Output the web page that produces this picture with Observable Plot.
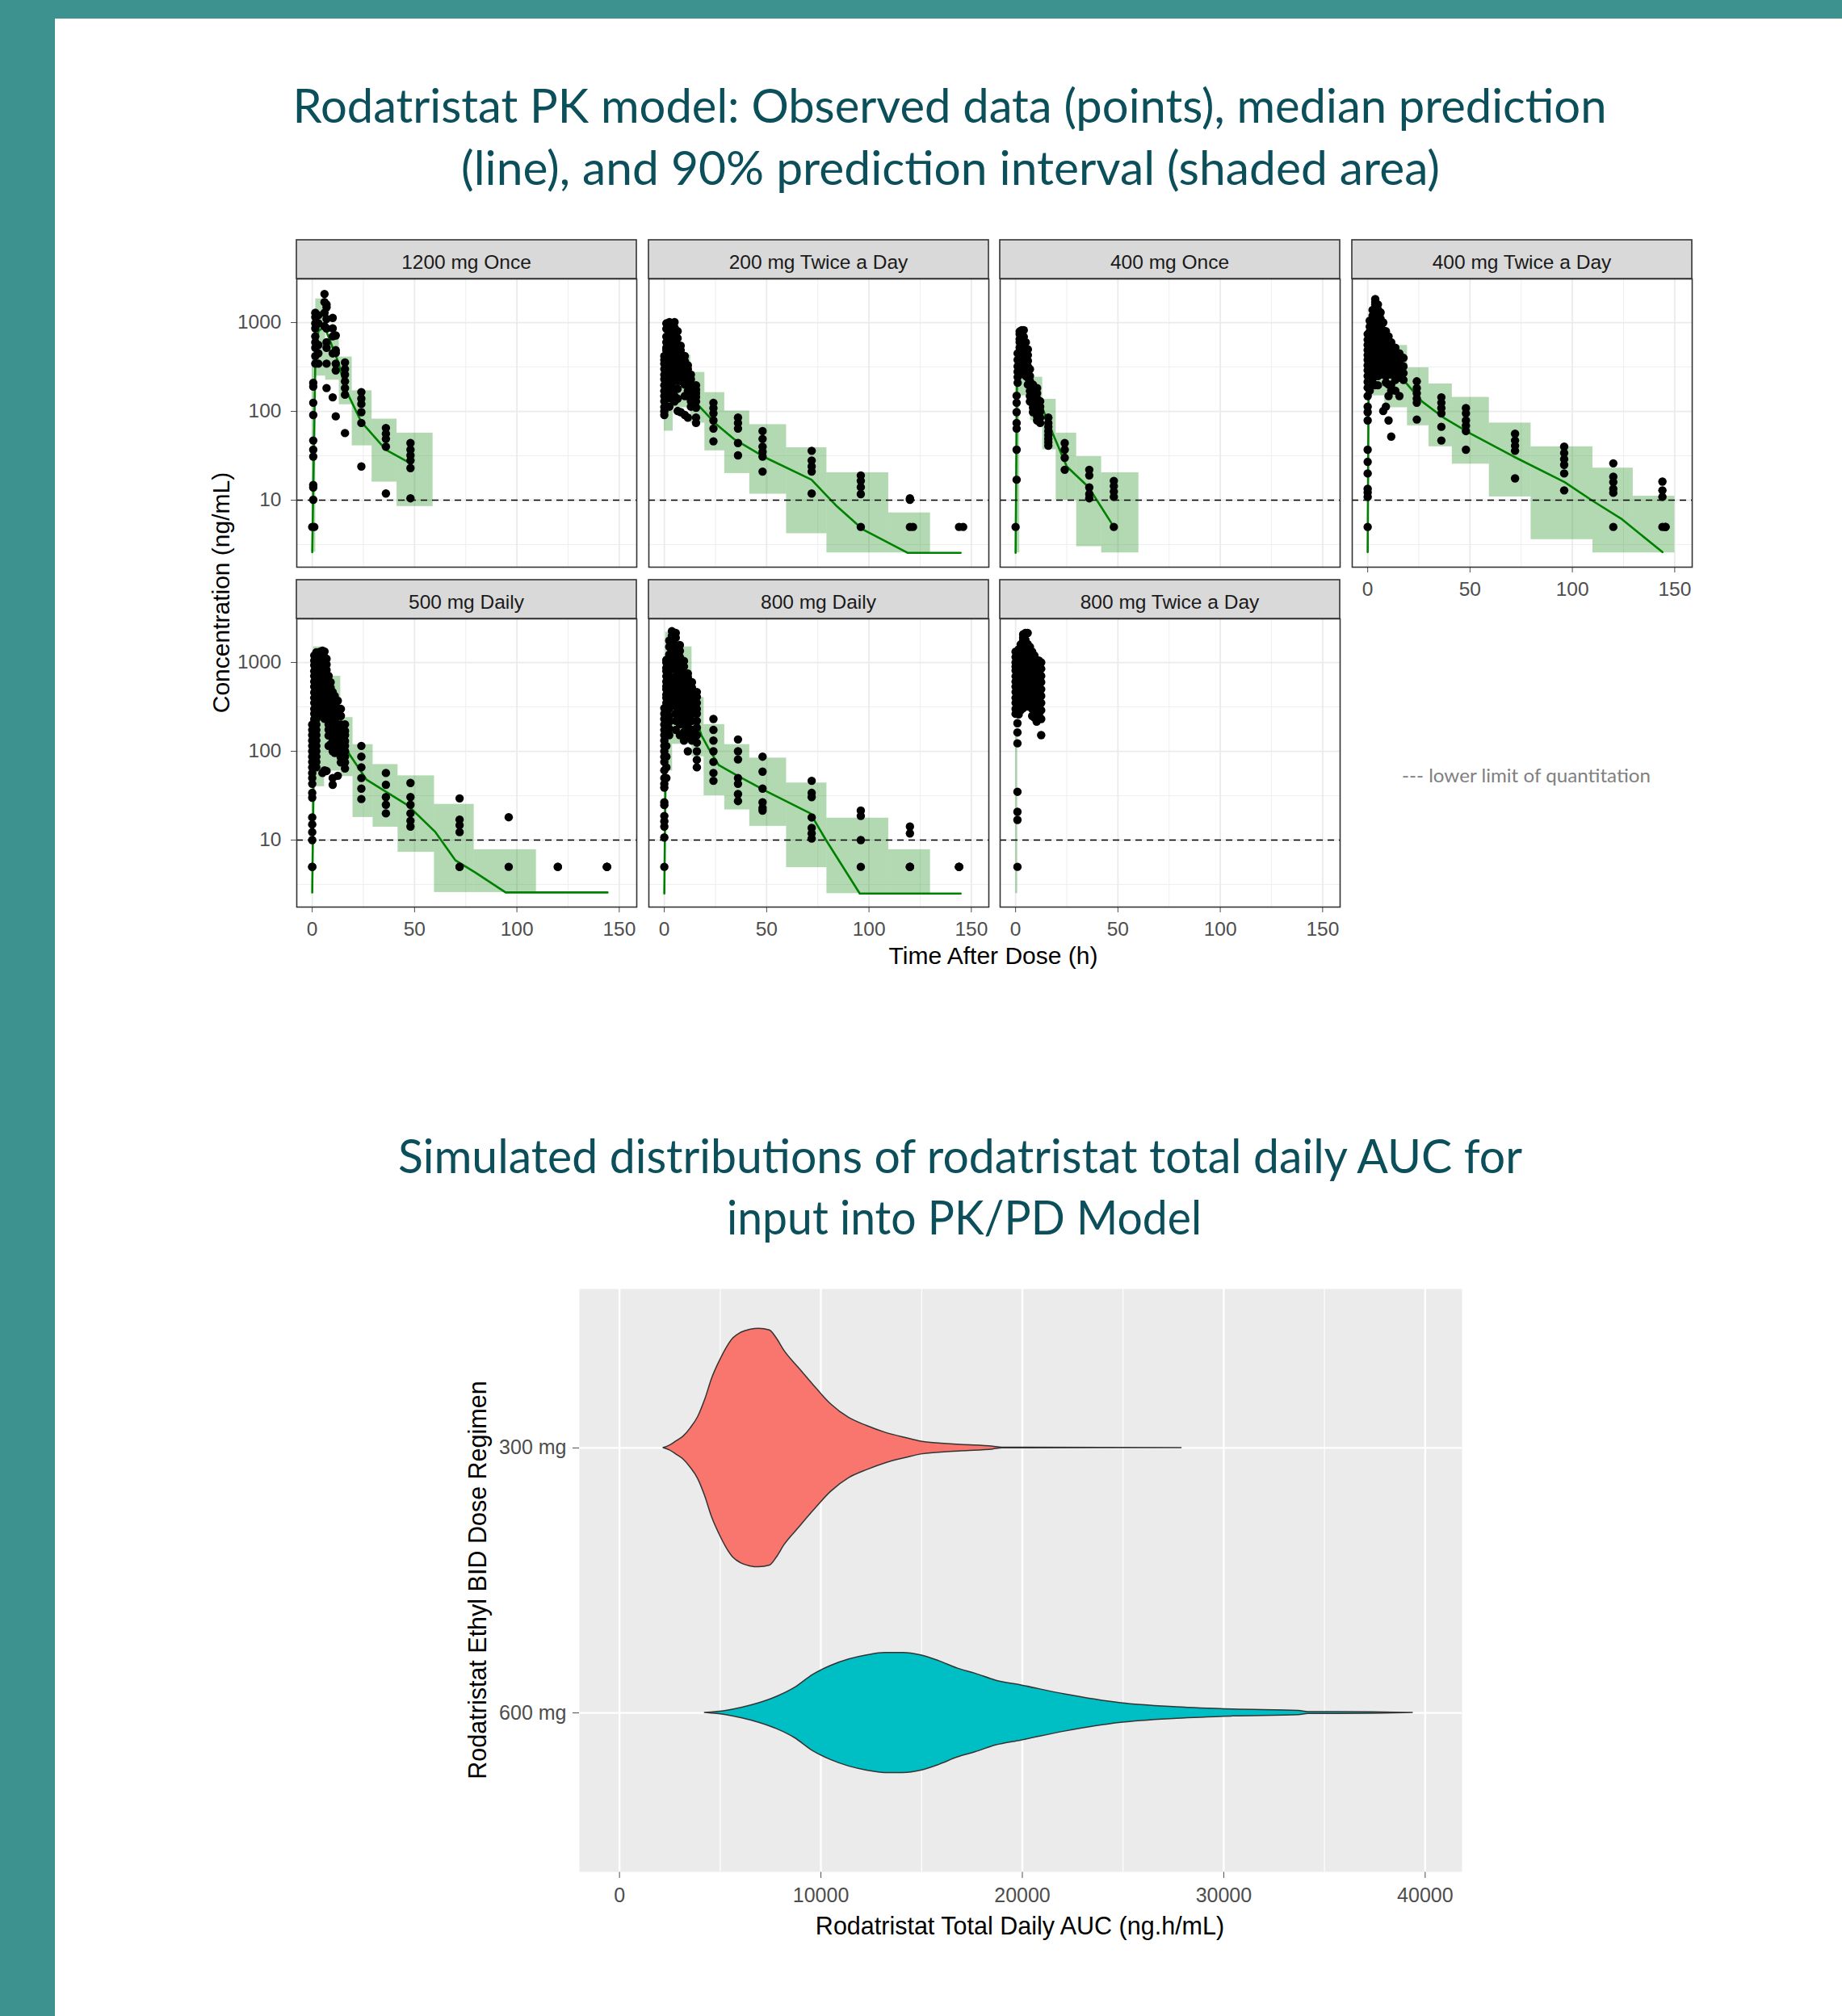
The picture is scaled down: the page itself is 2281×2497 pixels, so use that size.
<!DOCTYPE html>
<html><head><meta charset="utf-8">
<script src="https://cdn.jsdelivr.net/npm/d3@7"></script>
<script src="https://cdn.jsdelivr.net/npm/@observablehq/plot@0.6"></script>
<style>
html,body{margin:0;padding:0;background:#fff;}
#page{position:relative;width:2281px;height:2497px;overflow:hidden;background:#fff;}
#page > svg{position:absolute;max-width:none;}
</style></head><body><div id="page"></div>
<script>
// ---------------- DATA ----------------
const panelNames = ["1200 mg Once","200 mg Twice a Day","400 mg Once","400 mg Twice a Day","500 mg Daily","800 mg Daily","800 mg Twice a Day"];
const xTicks = [0,50,100,150];
const xMinor = [25,75,125];
const yTicks = [10,100,1000];
const yMinor = [3.162,31.62,316.2];
const lloq = 10;

// observed: [time, [concentrations...]]
const obs1200Once = [
 [0,[5.0]],
 [0.5,[10.1,13.9,14.8,31,37,47,91,125,190,210]],
 [1,[5.0]],
 [1.5,[345,420,520,600,700,860,980,1150,1290]],
 [3,[980,1210,345,450,560]],
 [6,[2100,1700,1290,910]],
 [7,[1600,1490,1100,860,600,520,345,183]],
 [10,[1130,860,700,450,144]],
 [11.5,[716,488,344,289,88,455]],
 [16,[356,300,260,218,183,154,57]],
 [24,[165,139,121,98,74,24]],
 [36,[65,56,49,40,11.9]],
 [48,[44,37,32,28,23,10.5]]
];
const obs200BID = [
 [0,[420,380,344,300,259,230,197,170,149,130,112,100,91]],
 [1,[979,850,695,600,520,487,420,360,300,250,197,160,139]],
 [2.5,[1014,882,780,700,601,520,450,369,300,260,226,190,149,113]],
 [3.5,[979,850,741,640,560,480,420,360,299,250,204,170,139]],
 [5,[1014,880,760,691,600,520,455,390,330,280,226,180,149,129]],
 [6.5,[800,667,560,480,400,350,300,260,220,180,139,101]],
 [8,[550,488,420,369,330,299,260,220,98]],
 [10,[420,369,330,299,270,243,200,149,91]],
 [11.5,[330,299,250,220,197,170,149,85]],
 [13,[260,230,204,171,149,130,113]],
 [15.5,[197,175,160,145,129,110,85,74]],
 [24,[125,109,95,79,64,46]],
 [36,[85,74,64,44,32]],
 [48,[60,49,40,35,31,21]],
 [72,[36,28,24,21,11.9]],
 [96,[19,16.5,14,11.7,5.0]],
 [120,[10.1,10.5,5.0]],
 [121.5,[5.0]],
 [144,[5.0]],
 [146,[5.0]]
];
const obs400Once = [
 [0,[5.0]],
 [0.5,[17,37,64,74,98,125,150]],
 [1,[210,243,279,321,380,450]],
 [2,[794,741,650,601,523,455,400,344,279,260]],
 [3,[820,740,650,560,480,420,370,320]],
 [4,[822,691,600,520,450,390,340]],
 [5,[600,488,420,369,320,299,250]],
 [6,[500,430,370,320,280,240,200]],
 [7,[299,251,220,197,170,149,129]],
 [8.5,[200,170,149,135,121,110,98]],
 [10.5,[183,160,139,120,98,88,79]],
 [12,[130,113,100,85,74]],
 [16,[85,74,67,60,54,49,45,41]],
 [24,[44,37,30,22]],
 [36,[22,19,13.9,11.7,10.5]],
 [48,[16.5,14.4,12.5,10.9,5.0]]
];
const obs400BID = [
 [0,[741,640,560,490,430,380,330,290,250,215,185,149,113,98,79,37,27,20,13.4,12.2,10.9,5.0]],
 [1,[1050,900,794,700,601,520,460,400,350,300,260,226,190,171]],
 [2.4,[1388,1200,1050,900,790,690,600,520,450,390,340,290,250,211]],
 [3.7,[1835,1700,1595,1400,1207,1050,900,800,700,601,520,450,390,340,299,250,197]],
 [5,[1600,1400,1207,1050,900,800,700,600,520,455,400,344,300,250,197]],
 [6.3,[1300,1100,979,850,750,650,560,480,420,369,320,260]],
 [7.6,[1000,822,700,601,520,460,400,350,300,260,101]],
 [8.9,[800,700,644,560,488,420,344,290,250,211,113]],
 [10.2,[700,601,520,450,396,330,260,200,149,79]],
 [11.5,[600,520,450,380,320,260,200,171,52]],
 [13.5,[520,460,400,340,299,260,226,171]],
 [15.5,[450,400,369,320,279,240,149]],
 [17.5,[400,321,270,226]],
 [24,[218,183,160,139,125,81]],
 [36,[144,125,109,95,67,47]],
 [48,[109,95,79,69,60,37]],
 [72,[56,47,41,36,17.6]],
 [96,[40,34,29,25,20,12.9]],
 [120,[26,18.4,16,13.4,12.1,5.0]],
 [144,[16.2,12.9,10.9,5.0]],
 [145.5,[5.0,5.0]]
];
const obs500Daily = [
 [0,[5.0,5.0,10,12.3,15,18,30,34,43,50,57,66,76,87,100,115,132,152,174,200]],
 [1,[230,265,300,351,400,460,535,610,705,800,930,1050,1200]],
 [2,[1300,1100,930,790,705,600,535,460,400,351,300,265,230,200,174,152,132,115,100,87,76,66]],
 [4,[1330,1150,1000,930,800,700,610,535,460,390,330,265]],
 [5,[1360,1200,1050,900,780,660,560,470,400,340,290,250,57]],
 [6,[1330,1150,1000,810,700,600,535,440,351,300,260,232,61]],
 [7,[1100,950,820,705,600,510,440,380,320,280,240,60]],
 [8,[705,620,550,465,420,370,320,265,230,200,175,150,115]],
 [9,[600,520,465,410,351,300,260,220,180,150,120]],
 [10,[465,410,351,300,250,210,180,152,130,100,50,42]],
 [11,[420,370,320,270,230,190,160,130,110,96]],
 [12.5,[370,300,250,201,170,150,130,110,96,53]],
 [14,[300,250,201,170,150,130,110,96,85,75]],
 [16,[201,170,152,130,115,100,87,75,64]],
 [24,[115,87,66,50,38,29]],
 [36,[57,42,30.5,25,20]],
 [48,[44,30.5,25,20,16.5,14.2]],
 [72,[29.5,17,14.7,12.3,5.0,5.0]],
 [96,[18.1,5.0]],
 [120,[5.0,5.0]],
 [144,[5.0,5.0,5.0]]
];
const obs800Daily = [
 [0,[5.0,10.7,14.2,16.3,18.7,24.8,26.6,39,43,50,61,76,87,100,115,132,152,174,200,231,265,306]],
 [1,[350,400,435,500,540,610,700,800,870,1000,1070,250,200,152,115,87,66,50]],
 [2.4,[1760,1500,1232,1000,810,700,600,535,450,351,300,250,215,180,152]],
 [3.7,[2250,2000,1880,1600,1410,1200,1000,850,660,560,465,400,340]],
 [5.6,[2150,1900,1570,1350,1150,1000,850,705,600,500,430,375,320,265,220,174]],
 [7.6,[1570,1350,1150,1000,850,705,600,500,430,360,300,250,201,152]],
 [9.6,[1040,900,750,650,535,470,403,340,300,265,230,201,165,132]],
 [11.5,[750,680,610,520,435,370,306,260,230,201,170,150,100]],
 [13.5,[600,520,465,420,375,320,265,220,174,150,132]],
 [15.9,[465,410,351,300,265,220,185,152,125,100,80,66]],
 [24,[231,174,132,100,76,57,46.5]],
 [36,[136,100,81,50,43,33,27.5]],
 [48,[87,59,38,26.6,23,21.5]],
 [72,[46.5,34,30.5,18,13.7,11.9,10.4]],
 [96,[21.5,18.7,10,5.0]],
 [120,[14.2,11.9,5.0,5.0,5.0]],
 [144,[5.0,5.0,5.0]]
];
const obs800BID = [
 [0,[1320,1150,1000,900,810,700,610,535,465,400,351,300,264]],
 [0.9,[207,163,123,35,20.8,16.9,5.0]],
 [1.5,[1410,1232,1050,870,750,610,520,435,360,306,260]],
 [2.5,[1600,1400,1200,1050,900,780,660,560,470,400,340,290]],
 [3.7,[2070,1900,1760,1500,1232,1050,870,750,610,520,435,370,306]],
 [4.8,[2150,1800,1500,1250,1050,900,760,640,540,450,380,320]],
 [5.9,[2150,1610,1400,1232,1050,870,700,535,450,375,320]],
 [7,[1500,1320,1150,1000,860,740,620,520,440,380,320]],
 [8.1,[1320,1150,1000,850,705,600,500,420,351,300,250]],
 [9.2,[1200,1050,900,780,660,560,470,400,340,290,240]],
 [10.3,[1070,950,810,700,570,480,403,340,265,216]],
 [11.4,[1050,900,760,640,540,450,380,320,260]],
 [12.5,[1000,850,705,600,500,420,351,290,231,152]]
];

// median prediction: [time, concentration]
const med1200Once = [[0,2.6],[1.5,345],[3,800],[6,900],[9,600],[13,344],[16,183],[24,76],[36,37],[48,26]];
const med200BID = [[0,250],[4,500],[8,300],[12.9,174],[15.5,125],[24.7,74],[33.9,49],[49.6,30],[71.9,17],[84.4,8.5],[96.9,4.7],[119,2.55],[144.8,2.55]];
const med400Once = [[0,2.55],[0.7,210],[2,380],[4,330],[8,200],[13,110],[18.5,54],[25,24],[35.7,14],[48,5]];
const med400BID = [[0,2.6],[0.5,300],[2,800],[6,700],[12,400],[18.1,218],[26.6,129],[37.1,85],[50.3,56],[71.3,31],[96.2,16],[110,9.8],[123.8,6.2],[144,2.6]];
const med500Daily = [[0,2.57],[1,200],[4,500],[8,400],[12,200],[18.1,93],[26.5,48],[46.8,24.5],[60.2,12.3],[70,5.9],[79.8,4.3],[94.5,2.57],[144.3,2.57]];
const med800Daily = [[0,2.5],[1,400],[4,900],[8,700],[12,400],[18.1,152],[21.7,107],[26.6,70],[35.8,53],[50.3,35],[71.3,20],[74.5,15],[79,10],[95.5,2.5],[144.8,2.5]];
const med800BID = [];

// 90% prediction interval bins: [tStart, tEnd, lower, upper]
const pi1200Once = [[0,1.7,2.6,400],[1.7,6.5,250,1850],[6.5,13.2,225,660],[13.2,19.5,119,410],[19.5,29.2,41,171],[29.2,41.4,16,82],[41.4,59,8.5,57]];
const pi200BID = [[0,4.3,60,900],[4.3,12.9,110,430],[12.9,19.8,74,275],[19.8,29.5,36,163],[29.5,41.7,20,101],[41.7,59.7,11.7,71],[59.7,79.4,4.2,39],[79.4,109.6,2.55,20.4],[109.6,130,2.55,7.2]];
const pi400Once = [[0,2,2.55,300],[2,7.3,150,410],[7.3,13.2,79,243],[13.2,19.8,37,137],[19.8,29.8,10,57],[29.8,42,3.0,31],[42,60.2,2.55,20.4]];
const pi400BID = [[0,0.6,2.6,80],[0.6,8.3,150,1210],[8.3,19.4,110,553],[19.4,29.9,69,310],[29.9,41.3,40,204],[41.3,59.4,25.5,144],[59.4,79.8,10.9,74],[79.8,110,3.6,40],[110,129.7,2.55,23],[129.7,150,2.55,11.1]];
const pi500Daily = [[0,0.6,2.57,40],[0.6,6,40,1500],[6,13.9,60,700],[13.9,19.9,52,240],[19.9,29.7,18,119],[29.7,41.9,14,71],[41.9,59.7,7.3,53],[59.7,79.1,2.57,25.3],[79.1,109.5,2.57,7.8]];
const pi800Daily = [[0,0.6,2.5,60],[0.6,4,60,2200],[4,13.5,120,1500],[13.5,19.4,87,404],[19.4,29.5,31.6,200],[29.5,41.7,21.9,119],[41.7,59.7,14.3,84],[59.7,79.4,4.9,44],[79.4,109.6,2.5,17.7],[109.6,130,2.5,7.8]];
const pi800BID = [[0,1,2.5,150]];

// violin: [AUC, relative density]
const doseLabels = ["300 mg","600 mg"];
const aucTicks = [0,10000,20000,30000,40000];
const aucMinor = [5000,15000,25000,35000];
const auc300 = [[2180,0],[2500,0.02],[2810,0.054],[3200,0.1],[3520,0.163],[3900,0.26],[4240,0.40],[4600,0.585],[4950,0.72],[5310,0.837],[5650,0.92],[6030,0.966],[6480,0.992],[6930,1.0],[7460,0.986],[7800,0.92],[8180,0.816],[8890,0.673],[9610,0.531],[10500,0.367],[11400,0.252],[12300,0.184],[13190,0.129],[14260,0.082],[14970,0.054],[16950,0.027],[18550,0.012],[19000,0.003],[27900,0]];
const auc600 = [[4240,0],[5300,0.018],[6100,0.045],[6930,0.082],[7820,0.136],[8710,0.211],[9610,0.32],[10500,0.395],[11400,0.449],[12290,0.483],[13190,0.503],[14080,0.503],[14970,0.483],[15870,0.435],[16770,0.374],[17660,0.33],[18680,0.272],[19950,0.231],[22100,0.156],[24900,0.082],[27670,0.048],[30450,0.029],[33720,0.018],[34200,0.008],[37400,0.006],[39380,0]];

// ---------------- LAYOUT ----------------
const page = document.getElementById("page");
const teal = "#3D918F";
const titleColor = "#0B4F5B";
const PW = 421, PH = 357, ML = 90, MR = 6, MT = 50, MB = 48;
const colLeft = [367, 803, 1238, 1674];
const rowTop = [345, 766];
const plotFont = "'Liberation Sans', Arial, sans-serif";

// background overlay with frame, titles and axis titles
const bg = d3.create("svg").attr("width", 2281).attr("height", 2497)
  .style("left", "0px").style("top", "0px");
bg.append("rect").attr("width", 2281).attr("height", 2497).attr("fill", "#fff");
bg.append("rect").attr("x", 0).attr("y", 0).attr("width", 2281).attr("height", 23).attr("fill", teal);
bg.append("rect").attr("x", 0).attr("y", 0).attr("width", 68).attr("height", 2497).attr("fill", teal);
function txt(str, x, y, o) {
  const t = bg.append("text").attr("x", x).attr("y", y).text(str)
    .attr("text-anchor", o.anchor || "middle")
    .attr("font-family", o.family || plotFont)
    .attr("font-size", o.size).attr("fill", o.fill || "#000");
  if (o.len) t.attr("textLength", o.len).attr("lengthAdjust", "spacingAndGlyphs");
  if (o.rotate) t.attr("transform", `rotate(-90 ${x} ${y})`);
  return t;
}
const calib = "Lato, 'Open Sans', sans-serif";
txt("Rodatristat PK model: Observed data (points), median prediction", 1176, 152, {size: 59, family: calib, fill: titleColor, len: 1627});
txt("(line), and 90% prediction interval (shaded area)", 1177, 229, {size: 59, family: calib, fill: titleColor, len: 1212});
txt("Simulated distributions of rodatristat total daily AUC for", 1189, 1453, {size: 59, family: calib, fill: titleColor, len: 1392});
txt("input into PK/PD Model", 1194, 1529, {size: 59, family: calib, fill: titleColor, len: 588});
txt("--- lower limit of quantitation", 1736, 969, {size: 24, family: calib, fill: "#808080", anchor: "start", len: 308});
txt("Concentration (ng/mL)", 284, 734, {size: 30, rotate: true});
txt("Time After Dose (h)", 1230, 1194, {size: 30});
txt("Rodatristat Total Daily AUC (ng.h/mL)", 1263, 2396, {size: 30.5});
txt("Rodatristat Ethyl BID Dose Regimen", 602, 1957, {size: 30.5, rotate: true});
page.appendChild(bg.node());

function facetPanel(p) {
  const pts = p.obs.flatMap(([t, cs]) => cs.map(c => ({t, c})));
  const svg = Plot.plot({
    width: ML + PW + MR, height: MT + PH + MB,
    marginLeft: ML, marginRight: MR, marginTop: MT, marginBottom: MB,
    style: {fontFamily: plotFont, fontSize: "24.5px", color: "#4D4D4D", background: "transparent", overflow: "visible"},
    x: {domain: [-7.55, 158.55], ticks: xTicks, tickFormat: d => String(d), tickSize: 7, tickPadding: 11,
        axis: p.ax ? "bottom" : null, label: null},
    y: {type: "log", domain: [1.76, 3100], ticks: yTicks, tickFormat: d => String(d), tickSize: 7, tickPadding: 12,
        axis: p.ay ? "left" : null, label: null},
    marks: [
      Plot.ruleY(yMinor, {stroke: "#EFEFEF", strokeWidth: 1.1}),
      Plot.ruleX(xMinor, {stroke: "#EFEFEF", strokeWidth: 1.1}),
      Plot.ruleY(yTicks, {stroke: "#EBEBEB", strokeWidth: 1.8}),
      Plot.ruleX(xTicks, {stroke: "#EBEBEB", strokeWidth: 1.8}),
      Plot.rect(p.pi, {x1: d => d[0], x2: d => d[1], y1: d => d[2], y2: d => d[3], fill: "#008000", fillOpacity: 0.3}),
      Plot.line(p.med, {x: d => d[0], y: d => d[1], stroke: "#008000", strokeWidth: 2.6}),
      Plot.ruleY([lloq], {stroke: "#000", strokeWidth: 1.6, strokeDasharray: "8,6"}),
      Plot.dot(pts, {x: "t", y: "c", r: 5.2, fill: "#000", stroke: "none"}),
      Plot.frame({stroke: "#333", strokeWidth: 1.6})
    ]
  });
  const s = d3.select(svg);
  s.append("rect").attr("x", ML).attr("y", MT - 48).attr("width", PW).attr("height", 48)
    .attr("fill", "#D9D9D9").attr("stroke", "#333").attr("stroke-width", 1.6);
  s.append("text").attr("x", ML + PW / 2).attr("y", MT - 12).attr("text-anchor", "middle")
    .attr("font-family", plotFont).attr("font-size", 24.5).attr("fill", "#1A1A1A").text(p.name);
  svg.style.position = "absolute";
  svg.style.maxWidth = "none";
  svg.style.left = (colLeft[p.col] - ML) + "px";
  svg.style.top = (rowTop[p.row] - MT) + "px";
  return svg;
}

const panels = [
  {name: panelNames[0], obs: obs1200Once, med: med1200Once, pi: pi1200Once, col: 0, row: 0, ax: false, ay: true},
  {name: panelNames[1], obs: obs200BID, med: med200BID, pi: pi200BID, col: 1, row: 0, ax: false, ay: false},
  {name: panelNames[2], obs: obs400Once, med: med400Once, pi: pi400Once, col: 2, row: 0, ax: false, ay: false},
  {name: panelNames[3], obs: obs400BID, med: med400BID, pi: pi400BID, col: 3, row: 0, ax: true, ay: false},
  {name: panelNames[4], obs: obs500Daily, med: med500Daily, pi: pi500Daily, col: 0, row: 1, ax: true, ay: true},
  {name: panelNames[5], obs: obs800Daily, med: med800Daily, pi: pi800Daily, col: 1, row: 1, ax: true, ay: false},
  {name: panelNames[6], obs: obs800BID, med: med800BID, pi: pi800BID, col: 2, row: 1, ax: true, ay: false}
];
for (const p of panels) page.appendChild(facetPanel(p));

// violin plot
const violins = [
  {data: auc300, pos: 1, fill: "#F8766D"},
  {data: auc600, pos: 2, fill: "#00BFC4"}
];
const vio = Plot.plot({
  width: 1280, height: 830, marginLeft: 177, marginRight: 10, marginTop: 16, marginBottom: 92,
  style: {fontFamily: plotFont, fontSize: "25px", color: "#4D4D4D", background: "transparent", overflow: "visible"},
  x: {domain: [-1990, 41830], ticks: aucTicks, tickFormat: d => String(d), tickSize: 8, tickPadding: 12, label: null},
  y: {domain: [2.6, 0.4], ticks: [1, 2], tickFormat: d => doseLabels[d - 1], tickSize: 8, tickPadding: 8, label: null},
  marks: [
    Plot.frame({fill: "#EBEBEB", stroke: "none"}),
    Plot.ruleX(aucMinor, {stroke: "#fff", strokeWidth: 1.2}),
    Plot.ruleX(aucTicks, {stroke: "#fff", strokeWidth: 2.4}),
    Plot.ruleY([1, 2], {stroke: "#fff", strokeWidth: 2.4}),
    ...violins.map(v => Plot.areaY(v.data, {
      x: d => d[0], y1: d => v.pos - d[1] * 0.45, y2: d => v.pos + d[1] * 0.45,
      curve: "monotone-x",
      fill: v.fill, stroke: "#333", strokeWidth: 1.5
    }))
  ]
});
vio.style.position = "absolute";
vio.style.maxWidth = "none";
vio.style.left = "540px";
vio.style.top = "1580px";
page.appendChild(vio);
</script></body></html>
